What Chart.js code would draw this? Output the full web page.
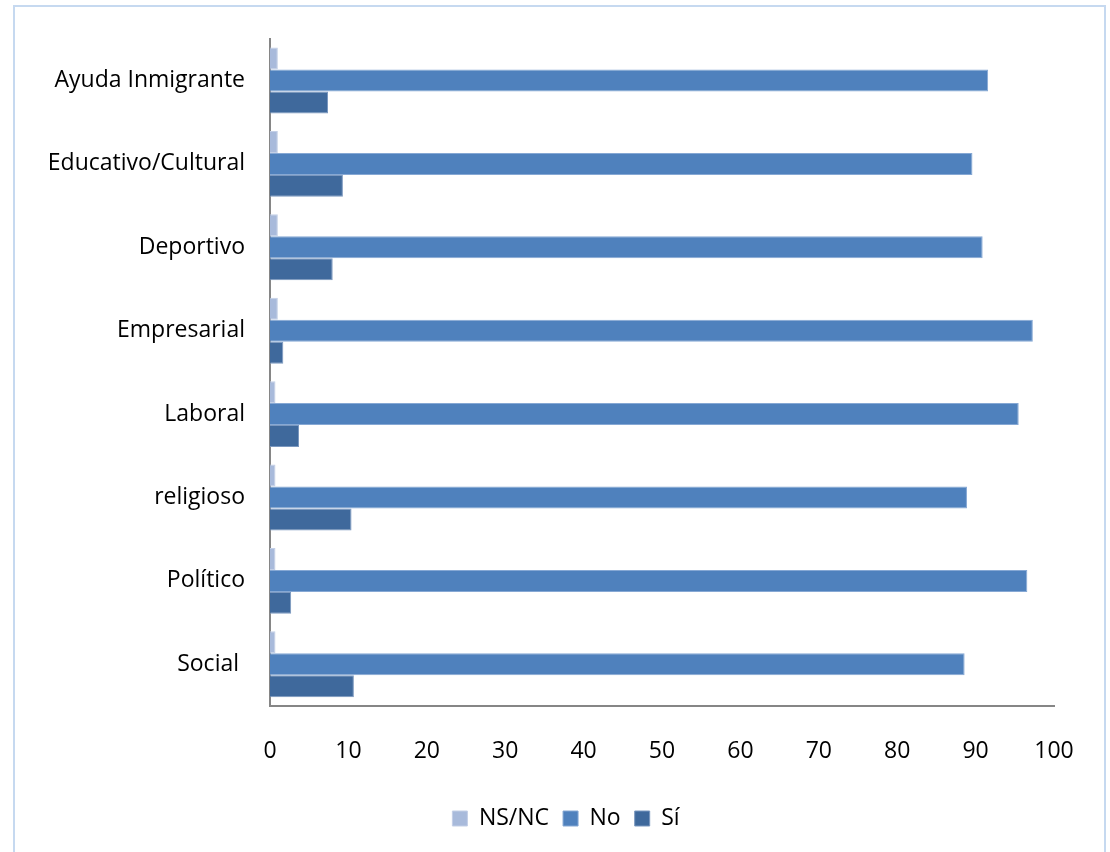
<!DOCTYPE html>
<html>
<head>
<meta charset="utf-8">
<script src="https://cdn.jsdelivr.net/npm/chart.js@4.4.1/dist/chart.umd.min.js"></script>
<style>
    html, body { margin: 0; padding: 0; background: #fff; }
    #frame {
        position: absolute;
        left: 13px; top: 5px;
        width: 1089px; height: 860px;
        border: 2px solid #c6d9f0;
    }
    #wrap { position: absolute; left: 0; top: 0; width: 1110px; height: 852px; }
</style>
</head>
<body>
<div id="frame"></div>
<div id="wrap"><canvas id="chart"></canvas></div>
<script>
const categories = ['Ayuda Inmigrante', 'Educativo/Cultural', 'Deportivo', 'Empresarial', 'Laboral', 'religioso', 'Político', 'Social '];
const nsnc = [1.0, 1.0, 1.0, 1.0, 0.7, 0.7, 0.7, 0.7];
const no = [91.6, 89.6, 90.9, 97.3, 95.5, 88.9, 96.6, 88.6];
const si = [7.4, 9.3, 8.0, 1.7, 3.7, 10.4, 2.7, 10.7];

const fontFamily = '"Open Sans", Lato, sans-serif';
const axisColor = '#868686';

// nudge the legend so it sits under the plot like in the original
const legendShift = {
    id: 'legendShift',
    afterLayout: function (chart) {
        if (chart.legend) {
            chart.legend.left += 39;
            chart.legend.right += 39;
        }
    }
};

const ctx = document.getElementById('chart').getContext('2d');
new Chart(ctx, {
    type: 'bar',
    data: {
        labels: categories,
        datasets: [
            {
                label: 'NS/NC',
                data: nsnc,
                backgroundColor: '#a8badb',
                borderColor: '#c3cfe6',
                borderWidth: 1
            },
            {
                label: 'No',
                data: no,
                backgroundColor: '#4f81bd',
                borderColor: '#86a8d4',
                borderWidth: 1
            },
            {
                label: 'Sí',
                data: si,
                backgroundColor: '#3f699c',
                borderColor: '#7b98bf',
                borderWidth: 1
            }
        ]
    },
    options: {
        indexAxis: 'y',
        responsive: true,
        maintainAspectRatio: false,
        animation: false,
        datasets: {
            bar: { categoryPercentage: 0.79, barPercentage: 1.0 }
        },
        layout: {
            padding: { left: 0, right: 56, top: 34, bottom: 12 }
        },
        plugins: {
            tooltip: { enabled: false },
            legend: {
                position: 'bottom',
                labels: {
                    boxWidth: 15,
                    boxHeight: 15,
                    padding: 14,
                    color: '#000',
                    font: { family: fontFamily, size: 23 }
                }
            }
        },
        scales: {
            x: {
                min: 0,
                max: 100,
                grid: { display: false, drawTicks: false },
                border: { color: axisColor, width: 2 },
                ticks: {
                    stepSize: 10,
                    padding: 32,
                    color: '#000',
                    font: { family: fontFamily, size: 23 }
                },
                afterFit: function (scale) { scale.height = 87; }
            },
            y: {
                grid: { display: false, drawTicks: false },
                border: { color: axisColor, width: 2 },
                ticks: {
                    padding: 25,
                    color: '#000',
                    font: { family: fontFamily, size: 23 }
                },
                afterFit: function (scale) { scale.width = 270; }
            }
        }
    },
    plugins: [legendShift]
});
</script>
</body>
</html>
